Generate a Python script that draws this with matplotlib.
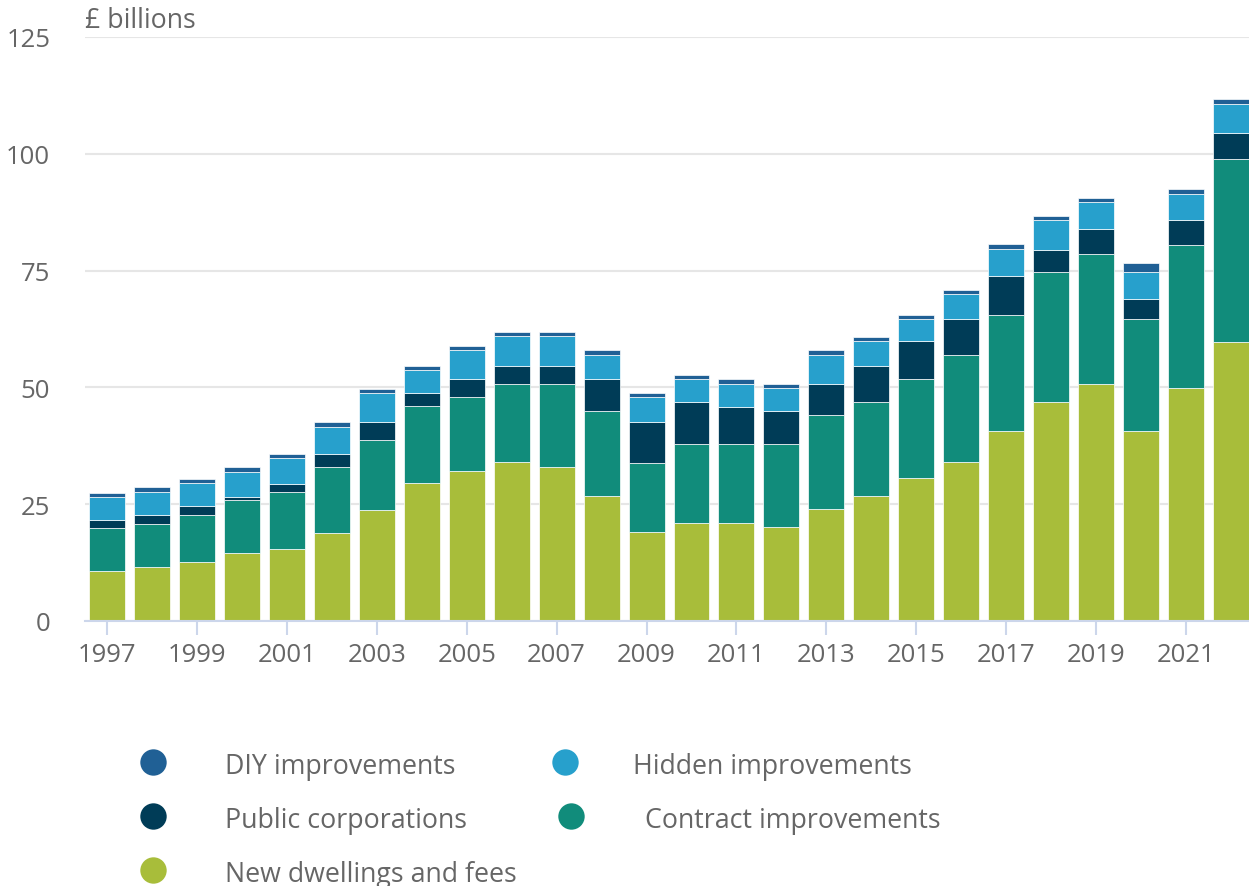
import numpy as np
import matplotlib
matplotlib.use('Agg')
import matplotlib.pyplot as plt
from matplotlib.lines import Line2D

plt.rcParams['font.family'] = ['Open Sans', 'DejaVu Sans']

years = list(range(1997, 2023))

# £ billions
new_dwellings = [10.7, 11.6, 12.6, 14.6, 15.5, 18.9, 23.7, 29.5, 32.0, 34.0, 33.0, 26.8, 19.1,
                 21.0, 21.0, 20.1, 24.0, 26.8, 30.7, 34.0, 40.7, 46.9, 50.7, 40.6, 49.8, 59.8]
contract = [9.2, 9.2, 10.1, 11.2, 12.1, 14.0, 15.0, 16.5, 16.0, 16.8, 17.8, 18.2, 14.8,
            16.8, 16.8, 17.7, 20.1, 20.1, 21.1, 23.0, 24.9, 27.9, 27.9, 24.0, 30.6, 39.0]
public_corp = [1.8, 1.9, 1.9, 0.7, 1.8, 2.9, 3.8, 2.8, 3.7, 3.7, 3.7, 6.7, 8.7,
               9.1, 8.1, 7.1, 6.6, 7.7, 8.1, 7.7, 8.2, 4.7, 5.2, 4.3, 5.4, 5.6]
hidden = [4.9, 4.9, 5.0, 5.4, 5.4, 5.7, 6.3, 4.9, 6.3, 6.4, 6.4, 5.3, 5.4,
          4.9, 4.9, 5.0, 6.3, 5.3, 4.8, 5.3, 5.9, 6.3, 5.8, 5.9, 5.7, 6.3]
diy = [0.9, 1.0, 0.9, 1.0, 0.9, 1.0, 0.9, 0.9, 0.9, 0.9, 0.9, 1.0, 0.8,
       0.9, 0.9, 0.8, 0.9, 0.9, 0.9, 0.9, 0.9, 0.9, 0.9, 1.8, 1.0, 1.0]

series = [('New dwellings and fees', new_dwellings, '#a8bd3a'),
          ('Contract improvements', contract, '#118c7b'),
          ('Public corporations', public_corp, '#003c57'),
          ('Hidden improvements', hidden, '#27a0cc'),
          ('DIY improvements', diy, '#206095')]

W, H = 1249, 887
fig = plt.figure(figsize=(W / 100, H / 100), dpi=100)
ax = fig.add_axes([85 / W, 1 - 622 / H, (1249 - 85) / W, (622 - 38) / H])

x = np.arange(len(years))
bottom = np.zeros(len(years))
for name, vals, col in series:
    ax.bar(x, vals, width=0.8, bottom=bottom, color=col, edgecolor='white', linewidth=0.5, zorder=3)
    bottom += np.array(vals)

ax.set_xlim(-0.49, 25.4)
ax.set_ylim(0, 125)
ax.set_yticks([0, 25, 50, 75, 100, 125])
ax.grid(axis='y', color='#e6e6e6', linewidth=1.5, zorder=0)
ax.set_xticks(x[::2])
ax.set_xticklabels([str(y) for y in years[::2]])

for s in ['top', 'right', 'left']:
    ax.spines[s].set_visible(False)
ax.spines['bottom'].set_color('#ccd6eb')
ax.spines['bottom'].set_linewidth(1.5)
ax.spines['bottom'].set_zorder(4)

ax.tick_params(axis='x', colors='#ccd6eb', length=10, width=1.5, pad=5, labelsize=18.5, labelcolor='#666666')
ax.tick_params(axis='y', length=0, pad=25, labelsize=18.5, labelcolor='#666666')

fig.text(85 / W, 1 - 21 / H, '£ billions', ha='left', va='center', fontsize=19.3, color='#666666')

# legend drawn by hand, two columns
legend_items = [('DIY improvements', '#206095', 153, 225, 763),
                ('Hidden improvements', '#27a0cc', 565, 633, 763),
                ('Public corporations', '#003c57', 153, 225, 817),
                ('Contract improvements', '#118c7b', 571, 645, 817),
                ('New dwellings and fees', '#a8bd3a', 153, 225, 871)]
for label, col, cx, tx, cy in legend_items:
    fig.add_artist(Line2D([cx / W], [1 - cy / H], marker='o', markersize=19, color=col,
                          markeredgewidth=0, linestyle='none', transform=fig.transFigure))
    fig.text(tx / W, 1 - (cy + 4) / H, label, ha='left', va='center', fontsize=19.3, color='#666666')

fig.savefig('out.png', dpi=100)
